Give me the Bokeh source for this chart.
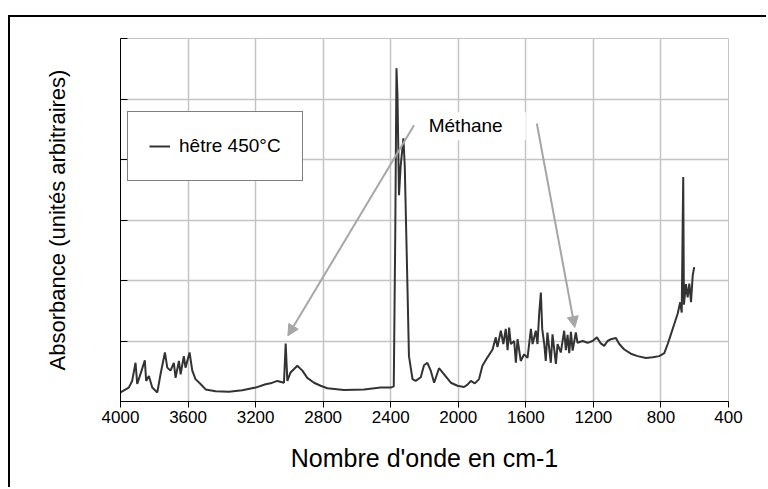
from bokeh.plotting import figure
from bokeh.models import Range1d, FixedTicker, Arrow, NormalHead, Label
from bokeh.embed import file_html
from bokeh.resources import INLINE

# ---- data ----
wavenumber = [4000, 3951, 3931, 3911, 3901, 3881, 3856, 3848, 3832, 3812,
              3782, 3763, 3737, 3723, 3704, 3684, 3674, 3654, 3644, 3625,
              3615, 3591, 3575, 3556, 3526, 3496, 3437, 3358, 3279, 3200,
              3141, 3111, 3071, 3032, 3022, 3012, 2993, 2953, 2923, 2894,
              2854, 2815, 2775, 2677, 2558, 2459, 2400, 2382, 2373, 2366,
              2360, 2351, 2341, 2325, 2317, 2305, 2292, 2271, 2252, 2222,
              2203, 2183, 2163, 2143, 2114, 2084, 2044, 2005, 1966, 1945,
              1926, 1902, 1877, 1857, 1827, 1797, 1778, 1768, 1748, 1733,
              1719, 1708, 1699, 1689, 1669, 1659, 1649, 1630, 1610, 1590,
              1570, 1560, 1541, 1531, 1521, 1511, 1503, 1491, 1482, 1472,
              1452, 1442, 1422, 1412, 1393, 1373, 1363, 1353, 1343, 1333,
              1323, 1304, 1294, 1264, 1234, 1205, 1179, 1156, 1136, 1116,
              1096, 1067, 1047, 1017, 978, 938, 889, 849, 810, 780,
              760, 741, 721, 701, 686, 677, 671, 668, 664, 652,
              642, 632, 622, 612, 603]
absorbance = [0.15, 0.23, 0.34, 0.64, 0.29, 0.46, 0.68, 0.34, 0.42, 0.23,
              0.15, 0.45, 0.81, 0.56, 0.51, 0.64, 0.39, 0.67, 0.45, 0.75,
              0.56, 0.81, 0.51, 0.37, 0.29, 0.20, 0.17, 0.16, 0.185, 0.23,
              0.285, 0.30, 0.34, 0.31, 0.96, 0.34, 0.48, 0.59, 0.51, 0.39,
              0.31, 0.26, 0.22, 0.19, 0.20, 0.23, 0.23, 0.25, 2.8, 5.51,
              5.06, 3.41, 3.9, 4.35, 3.9, 2.41, 0.75, 0.37, 0.34, 0.40,
              0.60, 0.64, 0.51, 0.31, 0.55, 0.45, 0.31, 0.26, 0.24, 0.28,
              0.34, 0.30, 0.37, 0.59, 0.73, 0.86, 1.06, 0.90, 1.17, 0.95,
              1.20, 0.85, 1.22, 0.95, 1.0, 0.64, 1.03, 0.67, 0.78, 0.72,
              1.20, 0.95, 1.17, 0.95, 1.45, 1.80, 1.20, 0.95, 0.67, 1.14,
              0.64, 1.11, 0.62, 0.95, 0.81, 1.17, 0.85, 1.10, 0.80, 1.15,
              0.84, 1.14, 0.97, 1.0, 0.97, 1.0, 1.06, 0.96, 0.92, 1.0,
              1.03, 1.05, 0.95, 0.86, 0.79, 0.75, 0.72, 0.73, 0.75, 0.80,
              0.95, 1.11, 1.28, 1.45, 1.64, 1.47, 3.0, 3.71, 1.6, 1.94,
              1.72, 1.95, 1.64, 2.08, 2.22]
x_ticks = [4000, 3600, 3200, 2800, 2400, 2000, 1600, 1200, 800, 400]
y_ticks = [0, 1, 2, 3, 4, 5, 6]
series_name = "hêtre 450°C"
annotation_text = "Méthane"

FONT = "Liberation Sans"
GRID = "#c4c4c4"
ARROW = "#a6a6a6"

p = figure(width=758, height=472, output_backend="svg", toolbar_location=None,
           x_range=Range1d(4000, 400), y_range=Range1d(0, 6),
           min_border_left=110, min_border_right=40,
           min_border_top=21, min_border_bottom=88)
p.margin = (15, 0, 0, 8)
p.styles = {"border-left": "2px solid black", "border-top": "2px solid black",
            "background-color": "white"}
p.background_fill_color = None
p.border_fill_color = None
p.outline_line_color = GRID

p.xgrid.ticker = FixedTicker(ticks=x_ticks)
p.ygrid.ticker = FixedTicker(ticks=y_ticks)
p.xgrid.grid_line_color = GRID
p.ygrid.grid_line_color = GRID
p.xgrid.grid_line_width = 1.5
p.ygrid.grid_line_width = 1.5

p.line(wavenumber, absorbance, line_color="#333333", line_width=2,
       legend_label=series_name)

# x axis
p.xaxis.ticker = FixedTicker(ticks=x_ticks)
p.xaxis.axis_line_color = "black"
p.xaxis.major_tick_line_color = "black"
p.xaxis.major_tick_in = 0
p.xaxis.major_tick_out = 6
p.xaxis.minor_tick_line_color = None
p.xaxis.major_label_text_font = FONT
p.xaxis.major_label_text_font_size = "17px"
p.xaxis.major_label_text_color = "black"
p.xaxis.major_label_standoff = 3
p.xaxis.axis_label = "Nombre d'onde en cm-1"
p.xaxis.axis_label_text_font = FONT
p.xaxis.axis_label_text_font_size = "25px"
p.xaxis.axis_label_text_font_style = "normal"
p.xaxis.axis_label_text_color = "black"
p.xaxis.axis_label_standoff = 18

# y axis (ticks without labels)
p.yaxis.ticker = FixedTicker(ticks=y_ticks)
p.yaxis.axis_line_color = "black"
p.yaxis.major_tick_line_color = "black"
p.yaxis.major_tick_in = 7
p.yaxis.major_tick_out = 0
p.yaxis.minor_tick_line_color = None
p.yaxis.major_label_overrides = {t: "" for t in y_ticks}
p.yaxis.axis_label = "Absorbance (unités arbitraires)"
p.yaxis.axis_label_text_font = FONT
p.yaxis.axis_label_text_font_size = "22px"
p.yaxis.axis_label_text_font_style = "normal"
p.yaxis.axis_label_text_color = "black"
p.yaxis.axis_label_standoff = 51

# legend
lg = p.legend[0]
lg.location = (7, 220)
lg.margin = 0
lg.padding = 21
lg.glyph_width = 21
lg.glyph_height = 26
lg.label_height = 26
lg.label_standoff = 9
lg.border_line_color = "black"
lg.border_line_width = 1
lg.label_text_font = FONT
lg.label_text_font_size = "19px"
lg.label_text_color = "black"
lg.background_fill_color = "white"
lg.background_fill_alpha = 1

# annotation "Méthane" with white box and two arrows
p.quad(left=2262, right=1600, bottom=4.32, top=4.78,
       fill_color="white", line_color=None)
p.add_layout(Label(x=2175, y=4.566, text=annotation_text, text_font=FONT,
                   text_font_size="19px", text_baseline="middle",
                   text_align="left", text_color="black"))
for xs, ys, xe, ye in [(2262, 4.566, 3009, 1.086), (1535, 4.595, 1310, 1.223)]:
    p.add_layout(Arrow(end=NormalHead(size=11, fill_color=ARROW, line_color=ARROW),
                       x_start=xs, y_start=ys, x_end=xe, y_end=ye,
                       line_color=ARROW, line_width=2))

open("out.html", "w").write(file_html(p, INLINE))
